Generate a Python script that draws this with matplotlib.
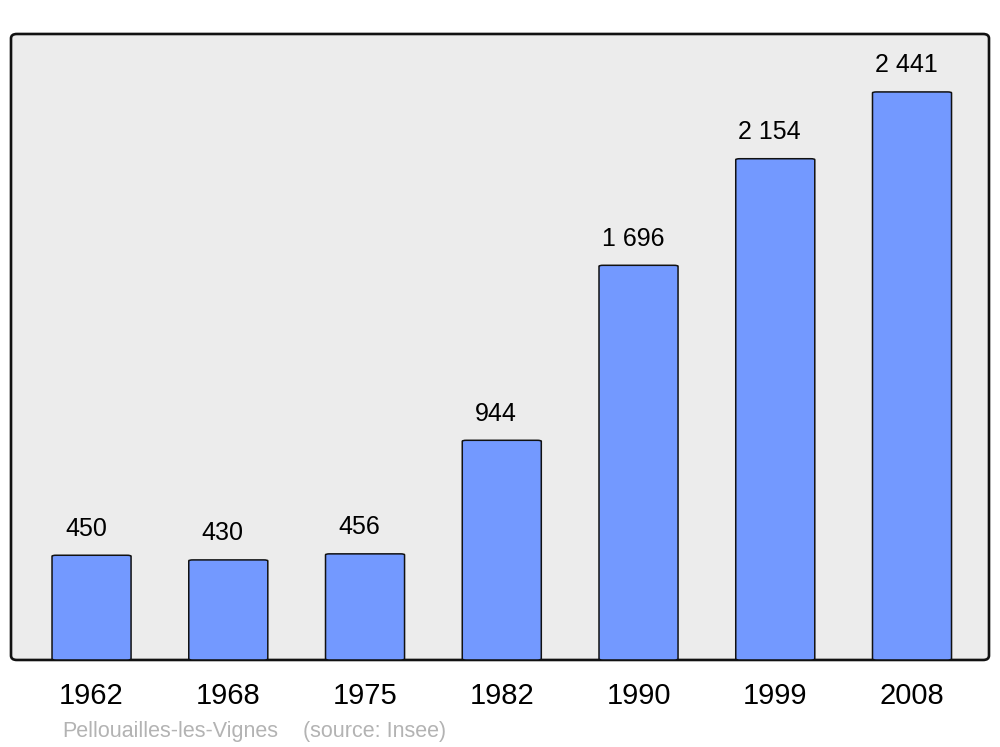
import matplotlib.pyplot as plt
from matplotlib.patches import FancyBboxPatch

plt.rcParams['font.family'] = ['Liberation Sans', 'DejaVu Sans']

years = ['1962', '1968', '1975', '1982', '1990', '1999', '2008']
population = [450, 430, 456, 944, 1696, 2154, 2441]
value_labels = ['450', '430', '456', '944', '1 696', '2 154', '2 441']

fig = plt.figure(figsize=(10, 7.47), dpi=100)
ax = fig.add_axes([0.011, 0.1165, 0.978, 0.838])
ax.set_xlim(-0.589, 6.563)
ax.set_ylim(0, 2690)
ax.axis('off')

# rounded grey frame behind the plot
frame = FancyBboxPatch((0, 0), 1, 1,
                       boxstyle='round,pad=0,rounding_size=0.006',
                       transform=ax.transAxes, facecolor='#ececec',
                       edgecolor='#111111', linewidth=1.9, zorder=0,
                       mutation_aspect=1.17, clip_on=False)
ax.add_patch(frame)

x = list(range(len(years)))
bars = ax.bar(x, population, width=0.578, color='#7399ff')
for b in bars:
    b.set_visible(False)
    rb = FancyBboxPatch((b.get_x(), b.get_y()), b.get_width(), b.get_height(),
                        boxstyle='round,pad=0,rounding_size=0.03',
                        mutation_aspect=140, facecolor='#7399ff',
                        edgecolor='#111111', linewidth=1.1, zorder=3)
    ax.add_patch(rb)

for xi, v, lab in zip(x, population, value_labels):
    ax.annotate(lab, (xi, v), xytext=(-4, 10.5), textcoords='offset points',
                ha='center', va='bottom', fontsize=18, color='black')

for xi, yr in zip(x, years):
    ax.text(xi, -0.058, yr, transform=ax.get_xaxis_transform(),
            ha='center', va='center', fontsize=21, color='black')

fig.text(0.062, 1 - 731 / 747, 'Pellouailles-les-Vignes', ha='left', va='center',
         fontsize=15.5, color='#b3b3b3')
fig.text(0.303, 1 - 731 / 747, '(source: Insee)', ha='left', va='center',
         fontsize=15.5, color='#b3b3b3')

fig.savefig('out.png', dpi=100)
